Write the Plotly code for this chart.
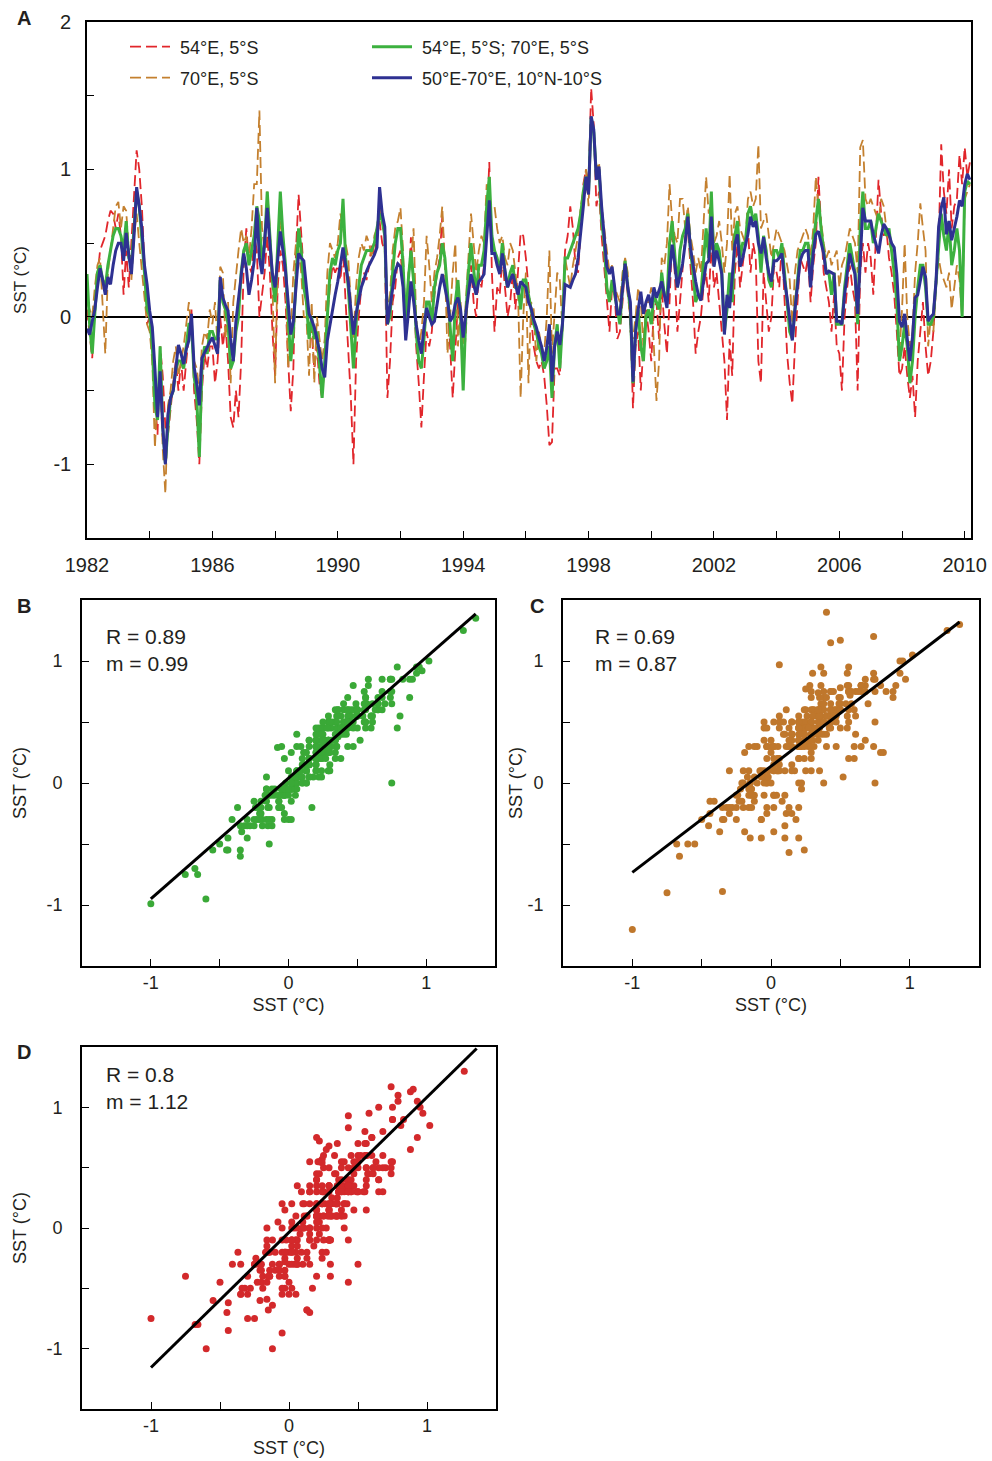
import plotly.graph_objects as go

W, H = 992, 1461
def px(x): return x / W
def py(y): return 1 - y / H

# ---------------- data (monthly SST anomalies, Jan 1982 - Mar 2010) ----------------
start_year = 1982

# 50°E-70°E, 10°N-10°S (area mean)
blue_rows = [
    [-0.08, -0.12, -0.03, 0.05, 0.20, 0.33, 0.25, 0.15, 0.27, 0.22, 0.35, 0.45],
    [0.50, 0.50, 0.38, 0.57, 0.42, 0.29, 0.55, 0.88, 0.75, 0.60, 0.35, 0.22],
    [0.04, -0.07, -0.35, -0.68, -0.37, -0.75, -1.00, -0.66, -0.55, -0.50, -0.35, -0.19],
    [-0.25, -0.32, -0.22, -0.16, 0.02, -0.34, -0.45, -0.60, -0.28, -0.24, -0.21, -0.17],
    [-0.14, -0.20, -0.25, 0.27, 0.13, 0.08, 0.04, -0.15, -0.30, -0.03, 0.13, 0.30],
    [0.43, 0.33, 0.15, 0.25, 0.38, 0.74, 0.40, 0.29, 0.55, 0.74, 0.50, 0.29],
    [0.20, 0.40, 0.58, 0.45, 0.31, 0.10, -0.12, -0.03, 0.20, 0.43, 0.40, 0.38],
    [0.20, 0.02, -0.02, -0.07, -0.15, -0.23, -0.35, -0.41, -0.16, -0.05, 0.06, 0.15],
    [0.24, 0.35, 0.47, 0.35, 0.24, 0.05, -0.12, 0.02, 0.10, 0.20, 0.25, 0.31],
    [0.35, 0.38, 0.42, 0.47, 0.88, 0.70, 0.61, -0.05, 0.06, 0.20, 0.31, 0.36],
    [0.34, 0.20, -0.16, 0.02, 0.24, 0.11, -0.05, -0.16, -0.25, -0.07, 0.06, 0.00],
    [-0.05, -0.03, 0.09, 0.20, 0.29, 0.20, 0.11, -0.03, 0.00, 0.09, 0.13, 0.05],
    [-0.14, 0.02, 0.15, 0.29, 0.22, 0.15, 0.24, 0.26, 0.29, 0.55, 0.79, 0.43],
    [0.43, 0.35, 0.29, 0.43, 0.30, 0.20, 0.25, 0.29, 0.22, 0.15, 0.24, 0.22],
    [0.20, 0.10, 0.06, -0.02, -0.07, -0.14, -0.20, -0.30, -0.21, -0.05, -0.44, -0.20],
    [-0.10, -0.19, -0.05, 0.22, 0.21, 0.20, 0.25, 0.29, 0.40, 0.56, 0.75, 0.95],
    [0.83, 1.36, 1.27, 0.93, 1.02, 0.75, 0.56, 0.34, 0.29, 0.34, 0.20, 0.02],
    [0.02, 0.20, 0.36, 0.20, 0.10, -0.44, -0.10, 0.05, 0.17, 0.02, 0.10, 0.15],
    [0.06, 0.20, 0.13, 0.18, 0.24, 0.15, 0.06, 0.30, 0.49, 0.36, 0.20, 0.28],
    [0.36, 0.50, 0.68, 0.47, 0.35, 0.24, 0.15, 0.11, 0.24, 0.36, 0.38, 0.68],
    [0.34, 0.45, 0.38, 0.29, -0.12, 0.15, 0.06, 0.30, 0.49, 0.56, 0.34, 0.40],
    [0.47, 0.56, 0.68, 0.61, 0.65, 0.50, 0.43, 0.54, 0.40, 0.30, 0.24, 0.38],
    [0.38, 0.40, 0.43, 0.25, 0.13, 0.00, -0.16, 0.05, 0.20, 0.38, 0.43, 0.45],
    [0.45, 0.20, 0.43, 0.56, 0.58, 0.50, 0.43, 0.29, 0.31, 0.30, 0.29, -0.03],
    [-0.03, -0.05, 0.15, 0.29, 0.43, 0.35, 0.29, 0.02, 0.43, 0.74, 0.65, 0.65],
    [0.65, 0.56, 0.50, 0.43, 0.55, 0.63, 0.60, 0.56, 0.50, 0.47, 0.29, -0.03],
    [-0.07, 0.02, -0.15, -0.30, -0.14, 0.13, 0.15, 0.25, 0.34, 0.27, -0.03, 0.00],
    [0.02, 0.24, 0.61, 0.74, 0.81, 0.56, 0.65, 0.52, 0.60, 0.68, 0.79, 0.75],
    [0.90, 0.97, 0.93],
]

# 54°E, 5°S
red_rows = [
    [0.05, -0.10, -0.28, 0.10, 0.30, 0.45, 0.50, 0.55, 0.65, 0.72, 0.70, 0.60],
    [0.70, 0.55, 0.15, 0.45, 0.20, 0.50, 0.80, 1.13, 1.00, 0.75, 0.35, -0.05],
    [0.00, -0.30, -0.55, -0.80, -0.20, -0.40, -0.75, -0.80, -0.60, -0.45, -0.30, -0.50],
    [-0.30, -0.50, -0.30, -0.10, 0.05, -0.50, -0.70, -1.00, -0.50, -0.25, -0.35, -0.20],
    [-0.20, -0.45, -0.30, 0.00, -0.20, -0.05, -0.30, -0.68, -0.75, -0.50, -0.68, -0.30],
    [0.35, 0.60, 0.35, 0.30, 0.55, 0.45, 0.00, 0.15, 0.30, 0.55, 0.30, -0.10],
    [-0.40, 0.20, 0.45, 0.35, 0.10, -0.30, -0.64, -0.35, 0.45, 0.83, 0.55, 0.30],
    [0.10, 0.00, -0.10, -0.35, -0.20, -0.45, -0.55, -0.30, 0.00, 0.20, 0.35, 0.30],
    [0.35, 0.25, 0.45, 0.10, -0.20, -0.55, -1.00, -0.30, 0.00, 0.20, 0.30, 0.25],
    [0.35, 0.50, 0.40, 0.55, 0.65, 0.50, 0.45, -0.55, -0.30, 0.10, 0.20, 0.40],
    [0.45, 0.20, -0.15, 0.20, 0.54, 0.20, -0.20, -0.45, -0.75, -0.40, -0.10, -0.20],
    [-0.10, 0.15, 0.30, 0.40, 0.68, 0.35, 0.10, -0.20, -0.55, -0.20, 0.10, -0.10],
    [-0.40, -0.10, 0.20, 0.35, 0.10, 0.00, 0.30, 0.20, 0.35, 0.60, 1.05, 0.30],
    [-0.10, 0.20, 0.15, 0.40, 0.20, 0.00, 0.10, 0.30, 0.05, 0.30, 0.57, 0.55],
    [0.40, 0.20, 0.00, -0.20, -0.30, -0.35, -0.30, -0.40, -0.60, -0.87, -0.85, -0.35],
    [-0.35, -0.40, 0.00, 0.45, 0.55, 0.75, 0.60, 0.35, 0.30, 0.60, 0.90, 1.00],
    [0.90, 1.55, 1.30, 0.75, 0.85, 0.55, 0.35, 0.10, -0.10, 0.20, 0.15, -0.15],
    [-0.10, 0.10, 0.35, 0.15, 0.00, -0.62, -0.20, -0.10, -0.50, -0.20, 0.05, -0.10],
    [-0.30, 0.05, 0.10, -0.15, 0.20, -0.05, -0.25, 0.10, 0.55, 0.30, -0.10, 0.10],
    [0.30, 0.55, 0.60, 0.35, 0.10, -0.25, -0.10, 0.00, 0.20, 0.30, 0.10, 0.50],
    [0.20, 0.30, 0.10, -0.10, -0.30, -0.70, -0.15, -0.40, 0.30, 0.50, 0.20, 0.35],
    [0.50, 0.60, 0.30, 0.50, 0.40, -0.30, -0.45, 0.30, 0.10, -0.10, 0.00, 0.35],
    [0.30, 0.20, 0.50, 0.10, -0.25, -0.45, -0.59, -0.20, 0.10, 0.40, 0.35, 0.30],
    [0.40, 0.10, 0.35, 0.50, 0.95, 0.60, 0.30, 0.20, 0.10, -0.10, 0.15, -0.20],
    [-0.25, -0.50, 0.00, 0.20, 0.35, 0.20, 0.10, -0.50, 0.30, 0.50, 0.30, 0.50],
    [0.40, 0.15, 0.50, 0.93, 0.70, 0.55, 0.60, 0.40, 0.30, 0.15, -0.10, -0.40],
    [-0.35, -0.20, -0.40, -0.55, -0.40, -0.68, -0.30, -0.10, 0.10, -0.20, -0.40, -0.30],
    [-0.10, 0.20, 0.50, 1.17, 0.85, 0.70, 1.00, 0.60, 0.75, 0.80, 1.10, 0.90],
    [1.15, 0.95, 1.05],
]

# 70°E, 5°S
brown_rows = [
    [0.10, 0.05, 0.00, 0.20, 0.35, 0.40, 0.10, -0.25, 0.30, 0.45, 0.60, 0.75],
    [0.78, 0.60, 0.75, 0.72, 0.45, 0.25, 0.55, 0.70, 0.50, 0.30, 0.10, -0.05],
    [-0.10, -0.30, -0.89, -0.50, -0.40, -0.90, -1.20, -0.60, -0.50, -0.30, -0.20, -0.40],
    [-0.30, -0.20, -0.05, 0.10, -0.10, -0.30, -0.35, -0.50, -0.20, -0.10, -0.15, 0.05],
    [-0.05, 0.10, -0.20, 0.34, 0.30, -0.15, 0.10, -0.45, 0.10, 0.30, 0.45, 0.60],
    [0.50, 0.55, 0.40, 0.60, 0.90, 0.90, 1.40, 0.60, 0.45, 0.85, 0.60, 0.20],
    [-0.45, 0.40, 0.65, 0.55, 0.30, -0.35, -0.10, 0.30, 0.50, 0.45, 0.30, 0.00],
    [0.00, -0.40, 0.10, -0.45, 0.00, -0.15, -0.30, -0.15, 0.30, 0.50, 0.45, 0.40],
    [0.50, 0.70, 0.60, 0.50, 0.40, 0.10, -0.15, 0.20, 0.40, 0.50, 0.45, 0.55],
    [0.50, 0.40, 0.55, 0.60, 0.75, 0.65, 0.55, 0.05, 0.15, 0.45, 0.60, 0.65],
    [0.74, 0.45, -0.10, 0.30, 0.35, 0.60, 0.00, -0.20, -0.10, 0.10, 0.55, 0.35],
    [0.10, 0.30, 0.40, 0.55, 0.75, 0.35, -0.25, 0.00, 0.30, 0.50, -0.20, 0.10],
    [-0.20, 0.10, 0.40, 0.70, 0.50, 0.30, 0.45, 0.55, 0.50, 0.90, 0.80, 0.75],
    [0.75, 0.60, 0.50, 0.55, 0.40, 0.35, 0.50, 0.45, 0.30, 0.15, -0.55, 0.00],
    [0.30, -0.45, 0.10, 0.05, -0.30, -0.10, -0.20, -0.25, 0.00, 0.45, -0.25, 0.00],
    [0.30, 0.25, -0.10, 0.40, 0.30, 0.20, 0.35, 0.45, 0.55, 0.75, 0.85, 1.00],
    [0.75, 1.30, 1.25, 1.00, 1.05, 0.75, 0.60, 0.45, 0.30, 0.35, 0.20, 0.15],
    [0.10, 0.30, 0.40, 0.30, -0.10, -0.15, 0.00, 0.20, 0.10, -0.20, 0.10, 0.10],
    [0.20, -0.20, -0.57, -0.30, 0.40, 0.35, 0.50, 0.90, 0.65, 0.55, 0.50, 0.80],
    [0.80, 0.60, 0.75, 0.55, 0.45, 0.30, 0.40, 0.30, 0.60, 0.95, 0.70, 0.80],
    [0.50, 0.55, 0.65, 0.50, 0.30, 0.50, 0.97, 0.45, 0.70, 0.75, 0.60, 0.55],
    [0.50, 0.80, 0.85, 0.75, 0.80, 1.17, 0.60, 0.65, 0.70, 0.55, 0.40, 0.50],
    [0.60, 0.55, 0.50, 0.45, 0.35, 0.25, -0.05, 0.30, 0.45, 0.50, 0.55, 0.60],
    [0.55, 0.40, 0.60, 0.95, 0.75, 0.65, 0.50, 0.40, 0.45, 0.35, 0.40, 0.45],
    [0.20, 0.35, 0.40, 0.50, 0.60, 0.55, 0.50, 0.30, 1.15, 1.20, 0.80, 0.75],
    [0.80, 0.75, 0.70, 0.65, 0.80, 0.75, 0.60, 0.50, 0.45, 0.30, 0.10, -0.25],
    [0.05, 0.50, 0.00, -0.20, -0.10, 0.30, 0.50, 0.77, 0.60, 0.45, -0.20, 0.00],
    [-0.10, 0.20, 0.40, 0.30, 0.25, 0.20, 0.30, 0.05, 0.20, 0.35, 0.25, 0.00],
    [0.80, 0.85, 0.90],
]

# 54°E, 5°S; 70°E, 5°S
green_rows = [
    [0.29, -0.05, -0.25, 0.05, 0.30, 0.35, 0.25, 0.20, 0.35, 0.45, 0.55, 0.60],
    [0.60, 0.55, 0.45, 0.65, 0.40, 0.35, 0.60, 0.85, 0.75, 0.55, 0.30, 0.05],
    [0.00, -0.20, -0.60, -0.70, -0.20, -0.75, -0.99, -0.75, -0.55, -0.50, -0.35, -0.30],
    [-0.30, -0.35, -0.20, -0.05, -0.05, -0.40, -0.55, -0.95, -0.35, -0.20, -0.25, -0.10],
    [-0.10, -0.15, -0.15, 0.25, 0.10, 0.05, -0.05, -0.35, -0.30, -0.10, 0.00, 0.30],
    [0.45, 0.50, 0.35, 0.45, 0.55, 0.75, 0.65, 0.35, 0.50, 0.85, 0.55, 0.25],
    [0.10, 0.50, 0.85, 0.55, 0.35, 0.00, -0.30, -0.10, 0.30, 0.60, 0.45, 0.20],
    [0.10, -0.15, 0.00, -0.15, -0.10, -0.30, -0.55, -0.30, 0.05, 0.30, 0.40, 0.35],
    [0.45, 0.50, 0.80, 0.40, 0.20, -0.10, -0.35, -0.05, 0.20, 0.35, 0.40, 0.45],
    [0.45, 0.45, 0.50, 0.60, 0.70, 0.65, 0.55, -0.05, 0.00, 0.30, 0.50, 0.60],
    [0.60, 0.35, -0.05, 0.25, 0.45, 0.25, -0.10, -0.30, -0.35, -0.15, 0.10, 0.10],
    [-0.05, 0.20, 0.30, 0.35, 0.50, 0.40, 0.15, -0.10, -0.30, 0.10, 0.25, 0.00],
    [-0.50, 0.00, 0.30, 0.50, 0.30, 0.15, 0.35, 0.35, 0.45, 0.75, 0.95, 0.55],
    [0.45, 0.40, 0.30, 0.50, 0.30, 0.20, 0.30, 0.35, 0.20, 0.20, 0.05, 0.25],
    [0.25, 0.15, 0.05, -0.05, -0.10, -0.20, -0.25, -0.35, -0.30, -0.20, -0.55, -0.20],
    [-0.05, -0.35, -0.05, 0.40, 0.40, 0.45, 0.50, 0.55, 0.60, 0.70, 0.85, 0.95],
    [0.85, 1.35, 1.25, 0.95, 1.00, 0.65, 0.50, 0.20, 0.10, 0.25, 0.15, 0.05],
    [-0.05, 0.20, 0.38, 0.20, 0.05, -0.45, -0.10, 0.05, -0.20, -0.30, 0.00, 0.05],
    [-0.05, 0.15, 0.10, 0.05, 0.30, 0.15, 0.10, 0.50, 0.65, 0.45, 0.20, 0.45],
    [0.55, 0.60, 0.70, 0.45, 0.30, 0.10, 0.15, 0.15, 0.40, 0.60, 0.40, 0.85],
    [0.35, 0.50, 0.45, 0.30, -0.10, 0.05, 0.30, 0.10, 0.55, 0.65, 0.40, 0.50],
    [0.50, 0.70, 0.75, 0.65, 0.70, 0.55, 0.30, 0.55, 0.45, 0.25, 0.20, 0.45],
    [0.45, 0.40, 0.50, 0.30, 0.10, -0.10, -0.15, 0.05, 0.30, 0.45, 0.45, 0.50],
    [0.50, 0.25, 0.50, 0.65, 0.80, 0.60, 0.45, 0.30, 0.30, 0.15, 0.30, -0.05],
    [-0.05, -0.05, 0.20, 0.35, 0.50, 0.40, 0.30, -0.05, 0.60, 0.85, 0.60, 0.60],
    [0.65, 0.50, 0.60, 0.70, 0.65, 0.60, 0.55, 0.60, 0.45, 0.30, 0.10, -0.30],
    [-0.20, -0.05, -0.20, -0.45, -0.30, 0.00, 0.20, 0.35, 0.35, 0.20, -0.05, -0.05],
    [0.00, 0.25, 0.50, 0.70, 0.55, 0.45, 0.65, 0.35, 0.45, 0.60, 0.45, 0.00],
    [0.85, 0.92, 0.90],
]

# regression statistics shown in panels B-D (y vs. area mean)
fit_R = ["0.89", "0.69", "0.8"]
fit_m = [0.99, 0.87, 1.12]
fit_b = [0.04, 0.137, -0.036]

# axis ticks
year_ticks = list(range(1982, 2011, 2))
year_labels = [str(y) if (y - 1982) % 4 == 0 else "" for y in year_ticks]
ts_yticks = [-1.5, -1, -0.5, 0, 0.5, 1, 1.5, 2]
ts_ylabels = ["", "-1", "", "0", "", "1", "", "2"]
sc_ticks = [-1, -0.5, 0, 0.5, 1]
sc_labels = ["-1", "", "0", "", "1"]

legend_names = ["54°E, 5°S", "70°E, 5°S", "54°E, 5°S; 70°E, 5°S", "50°E-70°E, 10°N-10°S"]

# ---------------- build ----------------
def flat(rows):
    return [v for r in rows for v in r]

blue = flat(blue_rows)
red = flat(red_rows)
brown = flat(brown_rows)
green = flat(green_rows)
t = [start_year + i / 12 for i in range(len(blue))]

RED = "#e1262b"
BROWN = "#c4802f"
GREEN = "#3cb13f"
BLUE = "#2e3192"
DOT_G = "#3aa937"
DOT_BR = "#bf772c"
DOT_R = "#d3292b"
FONT = "Liberation Sans, Arial, sans-serif"
TXT = "#231f20"
NB = "\u00a0"

fig = go.Figure()

fig.add_trace(go.Scatter(x=t, y=red, mode="lines", name=NB + legend_names[0], legend="legend",
                         line=dict(color=RED, width=1.8, dash="11px,5px")))
fig.add_trace(go.Scatter(x=t, y=brown, mode="lines", name=NB + legend_names[1], legend="legend2",
                         line=dict(color=BROWN, width=1.8, dash="11px,5px")))
fig.add_trace(go.Scatter(x=t, y=green, mode="lines", name=NB + legend_names[2], legend="legend3",
                         line=dict(color=GREEN, width=3)))
fig.add_trace(go.Scatter(x=t, y=blue, mode="lines", name=NB + legend_names[3], legend="legend4",
                         line=dict(color=BLUE, width=3)))

scatter_sets = [(green, DOT_G, "x2", "y2"), (brown, DOT_BR, "x3", "y3"), (red, DOT_R, "x4", "y4")]
xmin, xmax = min(blue), max(blue)
for k, (yy, col, xa, ya) in enumerate(scatter_sets):
    fig.add_trace(go.Scatter(x=blue, y=yy, mode="markers", xaxis=xa, yaxis=ya, showlegend=False,
                             marker=dict(color=col, size=7, line=dict(width=0))))
    fig.add_trace(go.Scatter(x=[xmin, xmax], y=[fit_m[k] * xmin + fit_b[k], fit_m[k] * xmax + fit_b[k]],
                             mode="lines", xaxis=xa, yaxis=ya, showlegend=False,
                             line=dict(color="black", width=3)))

axis_common = dict(showline=True, linecolor="black", linewidth=1.6, mirror=True, ticks="inside",
                   ticklen=7, tickwidth=1.3, tickcolor="black", showgrid=False, zeroline=False,
                   automargin=False, tickfont=dict(size=20, color=TXT))

layout = dict(
    width=W, height=H, margin=dict(l=0, r=0, t=0, b=0, pad=0, autoexpand=False),
    plot_bgcolor="white", paper_bgcolor="white",
    font=dict(family=FONT, size=18, color=TXT),
    xaxis=dict(axis_common, domain=[px(87), px(971)], range=[1982, 2010.2], tickvals=year_ticks,
               ticktext=year_labels, anchor="y", ticklabelstandoff=8),
    yaxis=dict(axis_common, domain=[py(538), py(22)], range=[-1.5, 2], tickvals=ts_yticks,
               ticktext=ts_ylabels, anchor="x", zeroline=True, zerolinecolor="black", zerolinewidth=1.6,
               ticklabelstandoff=10, title=dict(text="SST (°C)", font=dict(size=17), standoff=22)),
)
sc_domains = {
    "2": ([px(82), px(495)], [py(966), py(600)], 15),
    "3": ([px(563), px(979)], [py(966), py(600)], 0),
    "4": ([px(82), px(496)], [py(1409), py(1047)], 15),
}
for k, (xd, yd, ystand) in sc_domains.items():
    layout["xaxis" + k] = dict(axis_common, domain=xd, range=[-1.5, 1.5], tickvals=sc_ticks, ticktext=sc_labels,
                               anchor="y" + k, tickfont=dict(size=18, color=TXT), ticklabelstandoff=0,
                               title=dict(text="SST (°C)", font=dict(size=18), standoff=6))
    layout["yaxis" + k] = dict(axis_common, domain=yd, range=[-1.5, 1.5], tickvals=sc_ticks, ticktext=sc_labels,
                               anchor="x" + k, tickfont=dict(size=18, color=TXT), ticklabelstandoff=14,
                               title=dict(text="SST (°C)", font=dict(size=18), standoff=ystand))

leg_pos = [(125, 47), (125, 78), (367, 47), (367, 78)]
for i, (lx, ly) in enumerate(leg_pos):
    key = "legend" if i == 0 else "legend%d" % (i + 1)
    layout[key] = dict(x=px(lx), y=py(ly), xanchor="left", yanchor="middle", bgcolor="rgba(0,0,0,0)",
                       font=dict(size=18, color=TXT), itemwidth=40, borderwidth=0)

fig.update_layout(**layout)

# panel letters
for lab, (lx, ly) in zip(["A", "B", "C", "D"], [(24, 18), (24, 606), (537, 606), (24, 1052)]):
    fig.add_annotation(x=px(lx), y=py(ly), xref="paper", yref="paper", text="<b>%s</b>" % lab,
                       showarrow=False, font=dict(size=20, color=TXT), xanchor="center", yanchor="middle")

# R and m annotations
stat_pos = [(104, 636), (593, 636), (104, 1074)]
for k, (sx, sy) in enumerate(stat_pos):
    fig.add_annotation(x=px(sx), y=py(sy), xref="paper", yref="paper", text="R = " + fit_R[k],
                       showarrow=False, font=dict(size=21, color=TXT), xanchor="left", yanchor="middle")
    fig.add_annotation(x=px(sx), y=py(sy + 27), xref="paper", yref="paper", text="m = %.2f" % fit_m[k],
                       showarrow=False, font=dict(size=21, color=TXT), xanchor="left", yanchor="middle")

fig.write_html("out.html")
